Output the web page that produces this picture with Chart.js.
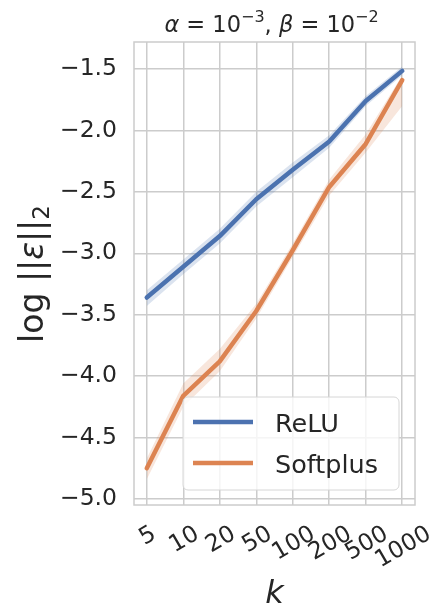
<!DOCTYPE html>
<html>
<head>
<meta charset="utf-8">
<script src="https://cdn.jsdelivr.net/npm/chart.js@4.4.1/dist/chart.umd.min.js"></script>
<style>
  html, body { margin: 0; padding: 0; background: #fff; }
  #wrap { width: 431px; height: 606px; }
</style>
</head>
<body>
<div id="wrap"><canvas id="chart"></canvas></div>
<script>
// valores (log ||eps||_2 frente a k)
const kLabels = ['5', '10', '20', '50', '100', '200', '500', '1000'];
const reluMean = [-3.36, -3.11, -2.86, -2.56, -2.32, -2.09, -1.76, -1.515];
const reluLow  = [-3.43, -3.17, -2.92, -2.62, -2.38, -2.14, -1.80, -1.55];
const reluHigh = [-3.30, -3.05, -2.80, -2.50, -2.26, -2.04, -1.72, -1.48];
const softMean = [-4.75, -4.16, -3.88, -3.47, -2.975, -2.46, -2.11, -1.59];
const softLow  = [-4.84, -4.25, -3.96, -3.53, -3.03, -2.53, -2.18, -1.80];
const softHigh = [-4.67, -4.06, -3.78, -3.41, -2.92, -2.40, -2.03, -1.55];
const yTicks = [-5.0, -4.5, -4.0, -3.5, -3.0, -2.5, -2.0, -1.5];
const seriesNames = ['ReLU', 'Softplus'];

const AZUL = '#4c72b0';
const NARANJA = '#dd8452';
const TEXTO = '#262626';
const GRILLA = '#cccccc';
const FUENTE = "'DejaVu Sans', sans-serif";

const puntos = arr => arr.map((v, i) => ({ x: i, y: v }));

// dibuja texto con partes (cursiva, superíndice, subíndice)
function medirPartes(ctx, partes) {
    let w = 0;
    partes.forEach(p => {
        ctx.font = `${p.it ? 'italic ' : ''}${p.size}px ${FUENTE}`;
        w += ctx.measureText(p.t).width;
    });
    return w;
}
function dibujarPartes(ctx, partes, x, y) {
    let cx = x;
    partes.forEach(p => {
        ctx.font = `${p.it ? 'italic ' : ''}${p.size}px ${FUENTE}`;
        ctx.fillText(p.t, cx, y + (p.dy || 0));
        cx += ctx.measureText(p.t).width;
    });
}

const textosPlugin = {
    id: 'textos',
    afterDatasetsDraw(chart) {
        const { ctx, chartArea: a } = chart;
        ctx.save();
        // marco del área
        ctx.strokeStyle = GRILLA;
        ctx.lineWidth = 1.5;
        ctx.strokeRect(a.left, a.top, a.right - a.left, a.bottom - a.top);

        // leyenda
        const lx = a.left + 49, ly = a.top + 355, lw = 216, lh = 93;
        ctx.fillStyle = 'rgba(255,255,255,0.8)';
        ctx.strokeStyle = '#d6d6d6';
        ctx.lineWidth = 1;
        ctx.beginPath();
        ctx.roundRect(lx, ly, lw, lh, 5);
        ctx.fill();
        ctx.stroke();
        [AZUL, NARANJA].forEach((col, i) => {
            const yy = ly + 25 + i * 41;
            ctx.strokeStyle = col;
            ctx.lineWidth = 4.5;
            ctx.beginPath();
            ctx.moveTo(lx + 10, yy);
            ctx.lineTo(lx + 70, yy);
            ctx.stroke();
            ctx.fillStyle = TEXTO;
            ctx.font = `25.5px ${FUENTE}`;
            ctx.textBaseline = 'alphabetic';
            ctx.textAlign = 'left';
            ctx.fillText(seriesNames[i], lx + 92, yy + 10);
        });
        ctx.restore();
    },
    afterDraw(chart) {
        const { ctx, chartArea: a, scales } = chart;
        ctx.save();
        ctx.fillStyle = TEXTO;
        ctx.textBaseline = 'alphabetic';
        ctx.textAlign = 'left';

        // título
        const fs = 22.5, sup = 16;
        const titulo = [
            { t: 'α', it: 1, size: fs }, { t: ' = 10', size: fs }, { t: '−3', size: sup, dy: -10 },
            { t: ', ', size: fs }, { t: 'β', it: 1, size: fs }, { t: ' = 10', size: fs }, { t: '−2', size: sup, dy: -10 }
        ];
        const wt = medirPartes(ctx, titulo);
        dibujarPartes(ctx, titulo, (a.left + a.right) / 2 - wt / 2 - 3, 31.5);

        // etiqueta eje y
        const fy = 33;
        const ylab = [
            { t: 'log ||', size: fy }, { t: 'ε', it: 1, size: fy }, { t: '||', size: fy }, { t: '2', size: fy * 0.7, dy: 6 }
        ];
        const wy = medirPartes(ctx, ylab);
        ctx.save();
        ctx.translate(43, 274);
        ctx.rotate(-Math.PI / 2);
        dibujarPartes(ctx, ylab, -wy / 2, 0);
        ctx.restore();

        // etiqueta eje x
        ctx.font = `italic 32px ${FUENTE}`;
        ctx.textAlign = 'center';
        ctx.fillText('k', (a.left + a.right) / 2, 603);

        // ticks del eje x, rotados 30° y centrados
        const tf = 23.5;
        const ang = Math.PI / 6;
        ctx.font = `${tf}px ${FUENTE}`;
        kLabels.forEach((lab, i) => {
            const x = scales.x.getPixelForValue(i);
            const w = ctx.measureText(lab).width;
            const h = tf * 0.73;
            const H = w * Math.sin(ang) + h * Math.cos(ang);
            const cy = a.bottom + 18 + H / 2;
            ctx.save();
            ctx.translate(x, cy);
            ctx.rotate(-ang);
            ctx.textAlign = 'center';
            ctx.fillText(lab, 0, h / 2);
            ctx.restore();
        });
        ctx.restore();
    }
};

function banda(low, high, color) {
    return [
        { data: puntos(high), borderWidth: 0, pointRadius: 0, fill: '+1', backgroundColor: color },
        { data: puntos(low), borderWidth: 0, pointRadius: 0, fill: false, backgroundColor: color }
    ];
}

new Chart(document.getElementById('chart'), {
    type: 'line',
    data: {
        datasets: [
            ...banda(reluLow, reluHigh, 'rgba(76,114,176,0.2)'),
            { label: seriesNames[0], data: puntos(reluMean), borderColor: AZUL, borderWidth: 4.5, pointRadius: 0, fill: false, borderJoinStyle: 'round', borderCapStyle: 'round' },
            ...banda(softLow, softHigh, 'rgba(221,132,82,0.2)'),
            { label: seriesNames[1], data: puntos(softMean), borderColor: NARANJA, borderWidth: 4.5, pointRadius: 0, fill: false, borderJoinStyle: 'round', borderCapStyle: 'round' }
        ]
    },
    options: {
        responsive: true,
        maintainAspectRatio: false,
        animation: false,
        layout: { padding: { left: 0, right: 16, top: 42, bottom: 0 } },
        plugins: { legend: { display: false }, tooltip: { enabled: false } },
        scales: {
            x: {
                type: 'linear',
                min: -0.35,
                max: 7.35,
                afterBuildTicks: s => { s.ticks = kLabels.map((_, i) => ({ value: i })); },
                afterFit: s => { s.height = 101; },
                ticks: { display: false },
                grid: { color: GRILLA, lineWidth: 1.5, drawTicks: false },
                border: { display: false }
            },
            y: {
                type: 'linear',
                min: -5.049,
                max: -1.28,
                afterBuildTicks: s => { s.ticks = yTicks.map(v => ({ value: v })); },
                afterFit: s => { s.width = 134; },
                ticks: {
                    color: TEXTO,
                    padding: 17,
                    font: { family: FUENTE, size: 23.5 },
                    callback: v => (v < 0 ? '−' : '') + Math.abs(v).toFixed(1)
                },
                grid: { color: GRILLA, lineWidth: 1.5, drawTicks: false },
                border: { display: false }
            }
        }
    },
    plugins: [textosPlugin]
});
</script>
</body>
</html>
